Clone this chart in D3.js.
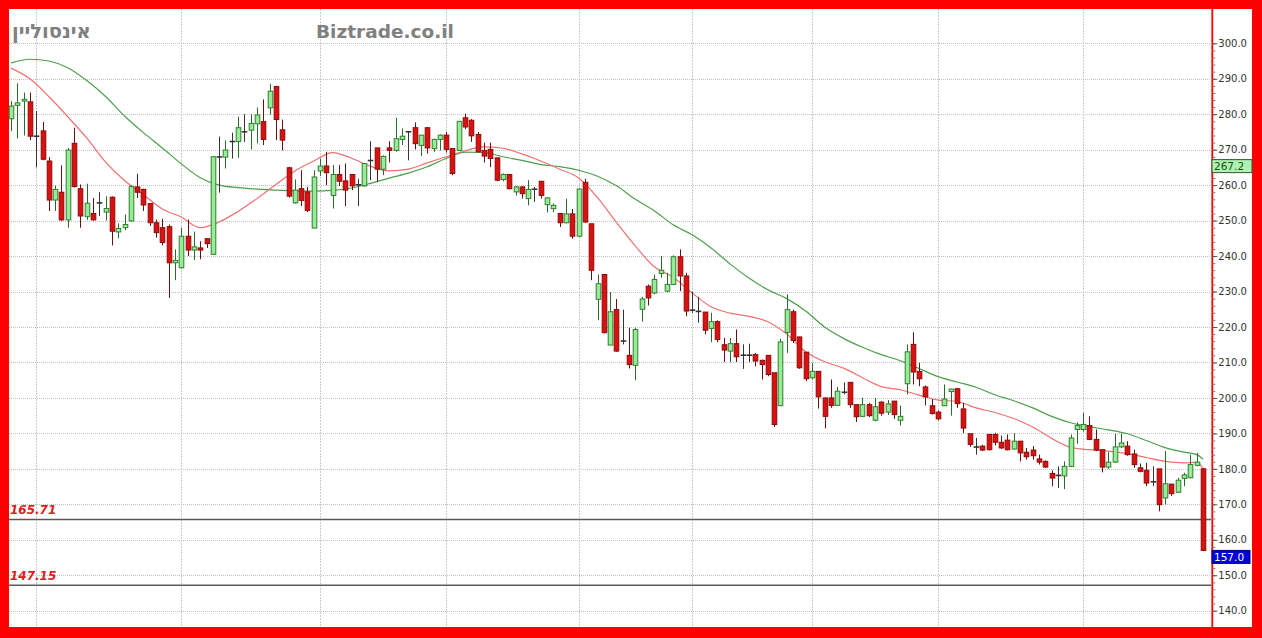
<!DOCTYPE html>
<html><head><meta charset="utf-8">
<script src="https://cdn.jsdelivr.net/npm/d3@7"></script>
<style>html,body{margin:0;padding:0;background:#fff;}svg{display:block;}</style>
</head><body>
<script>
// ---- data ----
const titleName = "אינסוליין";
const siteName = "Biztrade.co.il";
const opens = [278.7,282.5,283.7,283.5,273.9,275.3,266.8,255.8,258.0,250.2,271.8,259.0,251.1,252.0,255.0,252.4,256.6,246.8,248.0,249.9,
259.5,258.8,254.8,249.4,248.0,248.3,238.1,236.7,245.6,241.7,242.3,244.9,240.5,267.8,267.9,272.2,272.3,275.0,275.5,277.3,
277.9,281.8,287.8,275.6,264.9,255.0,259.0,258.1,247.9,264.0,265.4,257.1,263.0,261.2,263.0,260.0,259.8,266.8,270.5,264.5,
270.5,269.8,272.9,275.0,276.2,271.2,276.2,270.3,272.9,274.1,270.3,269.8,279.0,278.3,274.3,269.8,270.1,267.7,261.6,263.0,
258.1,259.5,256.2,258.8,261.1,254.5,253.4,252.0,249.4,251.9,245.6,260.8,249.1,227.8,234.8,214.9,224.9,216.0,212.0,209.2,
225.0,231.5,229.6,235.1,230.1,232.0,239.8,234.4,224.7,224.3,224.2,219.6,221.5,215.0,213.2,215.3,212.0,212.0,212.2,210.6,
212.0,207.1,197.8,218.5,224.3,217.2,212.9,205.7,207.5,200.0,200.0,197.9,201.5,204.4,198.1,194.8,198.1,193.7,198.8,196.0,
199.1,193.7,204.0,215.1,207.5,203.1,197.8,196.0,197.8,201.8,202.6,196.9,189.9,186.1,186.4,189.7,189.7,187.5,188.1,185.6,
187.8,184.7,185.3,182.8,182.1,178.7,178.1,178.0,180.7,191.1,191.1,192.2,188.3,185.4,180.5,181.9,186.2,186.4,184.2,180.3,
179.6,176.3,180.0,171.8,175.7,173.4,177.3,177.5,181.0,180.0];
const highs = [283.7,288.7,286.1,286.1,280.9,277.8,267.9,259.9,265.6,270.5,276.2,260.2,260.4,256.4,258.0,256.9,256.8,249.2,251.7,260.0,
263.2,259.0,255.0,250.3,250.5,248.9,241.9,248.0,250.3,246.9,244.2,245.0,268.2,273.7,272.6,274.8,279.3,280.0,280.0,281.9,
284.2,288.6,288.0,278.5,265.2,261.6,264.2,259.5,264.2,267.5,269.4,265.7,265.7,266.1,263.0,261.8,266.2,272.4,270.5,268.4,
272.4,279.0,276.0,275.3,277.7,274.1,276.4,273.1,274.3,275.0,270.3,278.0,280.2,278.6,275.0,272.0,272.0,267.7,263.3,263.0,
259.8,259.8,261.4,259.5,261.1,256.6,254.8,252.0,256.2,253.3,259.0,261.8,249.1,234.8,234.8,229.8,227.9,224.9,219.8,219.8,
228.5,232.0,234.8,240.0,235.3,240.2,241.9,235.3,230.0,228.5,224.2,224.0,221.9,216.9,216.9,219.3,215.1,215.3,212.7,210.8,
212.0,207.1,216.7,229.2,224.9,217.2,212.9,209.9,207.5,200.0,205.2,203.1,204.4,204.4,198.1,200.0,198.6,200.0,199.1,199.4,
199.1,197.8,215.1,218.5,209.9,203.5,199.7,196.5,203.8,202.6,202.6,198.6,189.9,188.7,186.8,189.7,190.2,189.4,189.7,190.0,
187.8,185.9,186.4,184.0,182.4,179.6,180.7,182.1,189.7,193.1,195.8,194.8,191.1,185.4,184.7,189.9,189.9,187.8,185.4,181.5,
181.7,180.7,180.0,185.0,175.7,177.5,178.9,184.0,184.5,180.1];
const lows = [275.2,273.2,274.0,272.7,265.0,267.0,252.7,252.7,249.9,248.0,259.3,248.0,250.2,250.0,251.3,250.0,243.0,245.0,247.3,249.7,
256.4,252.7,248.5,245.2,243.0,228.2,233.2,236.5,240.0,238.9,239.1,242.3,240.3,257.9,264.7,267.5,267.7,272.2,270.1,271.8,
271.3,279.9,272.7,269.8,256.5,254.8,254.1,252.4,247.9,262.6,260.0,253.4,259.8,254.1,258.6,254.1,259.5,261.4,260.9,262.8,
266.4,269.4,271.3,267.0,270.1,268.2,268.9,269.4,269.8,269.2,262.8,269.8,275.8,272.2,269.2,266.4,265.1,261.1,261.1,258.8,
257.1,256.2,254.3,255.3,256.2,252.3,252.4,248.2,249.2,244.9,245.4,249.4,233.2,221.9,218.2,214.9,213.0,215.1,208.3,205.0,
221.5,226.1,229.2,233.9,229.8,231.8,230.1,223.0,224.0,221.2,217.9,215.7,215.7,210.1,210.1,210.1,208.2,210.1,208.9,205.2,
206.1,191.8,197.8,212.7,215.5,208.2,204.7,205.2,197.0,191.4,197.2,197.9,201.0,197.2,193.2,194.6,194.6,193.4,195.0,195.2,
194.1,192.2,201.0,203.8,203.3,197.9,195.3,193.7,197.8,195.0,197.2,190.1,186.2,184.0,185.0,185.2,186.6,185.6,185.2,185.4,
182.1,182.6,182.6,181.2,180.3,175.1,174.6,174.3,180.5,187.1,190.5,188.1,185.0,179.0,180.0,181.7,185.9,183.7,180.3,179.0,
175.1,175.1,168.0,169.9,172.4,173.2,175.1,177.3,180.7,156.8];
const closes = [282.3,283.2,284.2,273.8,273.7,267.3,255.8,258.8,250.2,269.9,259.6,251.3,254.9,250.2,255.0,253.4,247.0,247.8,248.9,259.6,
258.0,254.4,249.4,246.6,243.8,238.1,238.8,245.6,241.7,242.6,241.7,243.5,268.0,268.1,269.9,272.4,276.2,275.1,277.4,279.8,
272.9,286.5,278.5,272.7,256.9,258.6,255.7,252.9,262.3,265.4,263.5,263.0,261.1,258.6,259.8,260.2,266.1,267.1,264.5,268.1,
269.8,273.1,273.8,275.1,271.7,274.1,270.5,272.9,274.1,270.1,263.3,278.0,276.4,273.9,269.4,268.2,267.5,261.4,263.0,259.0,
259.5,257.6,258.8,258.9,257.1,256.4,254.3,249.4,251.9,245.6,258.9,249.6,236.0,232.2,218.4,224.3,213.2,216.1,209.4,219.3,
227.9,228.2,233.4,236.0,232.0,239.8,234.4,224.5,224.8,224.5,219.1,221.5,216.5,213.5,215.3,211.6,212.1,212.1,210.4,209.4,
206.6,192.5,215.8,224.9,216.2,208.5,205.4,207.5,200.3,194.8,197.9,201.9,201.7,198.1,194.7,198.1,195.0,197.5,195.7,198.3,
195.3,194.8,213.0,207.3,205.4,200.3,195.6,194.1,199.7,202.5,198.4,191.5,186.9,186.2,185.3,185.4,187.5,185.9,185.4,187.8,
184.5,183.4,183.7,181.9,180.5,177.4,178.2,180.7,188.7,192.2,192.5,188.3,185.3,180.5,181.9,186.2,187.3,184.0,181.2,179.3,
176.0,176.4,169.9,175.8,173.0,176.8,178.3,181.2,181.9,157.0];
// moving averages (day index, value)
const maShortDays = [0,3,6,9,12,15,18,21,24,27,30,33,36,39,42,45,48,51,54,57,60,63,66,69,72,75,78,81,84,87,90,93,96,99,102,105,108,111,114,117,120,123,126,129,132,135,138,141,144,147,150,153,156,159,162,165,168,171,174,177,180,183,186,188,189];
const maShortVals = [293.0,290.0,285.0,279.3,273.3,266.5,261.3,257.3,253.3,251.0,248.0,249.6,252.6,256.2,260.2,264.0,266.8,269.2,267.6,265.3,264.0,264.5,266.3,268.0,269.7,270.8,270.4,268.8,266.8,264.5,262.0,256.5,249.5,242.8,237.0,234.0,229.6,225.7,223.9,223.0,221.5,218.0,213.0,210.2,208.4,205.7,203.2,202.3,200.8,199.4,199.0,197.2,195.9,194.2,191.8,188.6,186.1,185.4,185.0,184.3,183.2,182.1,181.7,181.8,180.1];
const maLongDays = [0,3,6,9,12,15,18,21,24,27,30,33,36,39,42,45,48,51,54,57,60,63,66,69,72,75,78,81,84,87,90,93,96,99,102,105,108,111,114,117,120,123,126,129,132,135,138,141,144,147,150,153,156,159,162,165,168,171,174,177,180,183,186,188,189];
const maLongVals = [294.5,295.5,295.0,293.1,289.5,285.0,279.5,274.8,270.5,266.0,262.1,260.0,259.3,258.9,258.6,258.4,258.3,258.5,259.2,260.5,262.0,263.4,265.2,267.5,269.3,269.2,268.0,267.0,265.8,265.2,264.2,262.5,259.8,256.0,252.8,248.8,246.0,242.3,237.8,233.8,230.5,228.0,224.5,220.0,216.8,214.3,212.2,210.5,208.3,206.0,204.5,203.0,200.9,199.2,197.2,194.8,193.0,191.9,191.0,189.9,188.0,186.0,184.7,184.0,182.7];
const monthStarts = [4,27,49,69,90,108,127,147,170];
const levels = [165.71, 147.15];
const yTicks = d3.range(140, 301, 10);
const markerValues = [267.2, 157.0];

// ---- drawing ----
const W = 1262, H = 638;
const svg = d3.select("body").append("svg").attr("width", W).attr("height", H);
svg.append("rect").attr("width", W).attr("height", H).attr("fill", "#ff0000");
svg.append("rect").attr("x", 9).attr("y", 9).attr("width", 1243).attr("height", 618).attr("fill", "#fff");

const x = d3.scaleLinear().domain([0, 189]).range([11, 1203]);
const y = d3.scaleLinear().domain([140, 300]).range([610.7, 43.3]);
const plotL = 9, plotR = 1211, plotT = 9, plotB = 627;

const g = svg.append("g");
// horizontal grid
g.selectAll("line.hg").data(yTicks).join("line")
  .attr("x1", plotL).attr("x2", plotR)
  .attr("y1", d => Math.round(y(d)) + 0.5).attr("y2", d => Math.round(y(d)) + 0.5)
  .attr("stroke", "#c4c4c4").attr("stroke-dasharray", "1,1");
// vertical grid
g.selectAll("line.vg").data(monthStarts).join("line")
  .attr("x1", d => Math.round(x(d)) + 0.5).attr("x2", d => Math.round(x(d)) + 0.5)
  .attr("y1", plotT).attr("y2", plotB)
  .attr("stroke", "#cccccc").attr("stroke-dasharray", "2,1");

// titles
svg.append("text").attr("x", 12).attr("y", 38).text(titleName)
  .attr("font-family", "DejaVu Sans").attr("font-weight", "bold").attr("font-size", 19.5).attr("fill", "#808080");
svg.append("text").attr("x", 316).attr("y", 38).text(siteName)
  .attr("font-family", "DejaVu Sans").attr("font-weight", "bold").attr("font-size", 18.5).attr("fill", "#808080");

// level lines
levels.forEach(v => {
  g.append("line").attr("x1", plotL).attr("x2", plotR).attr("y1", y(v)).attr("y2", y(v))
    .attr("stroke", "#5a5a5a").attr("stroke-width", 1.5);
  g.append("text").attr("x", 10).attr("y", y(v) - 5.5).text(v.toFixed(2))
    .attr("font-family", "DejaVu Sans").attr("font-weight", "bold").attr("font-style", "italic")
    .attr("font-size", 12).attr("fill", "#dd2020");
});

// moving averages
const line = d3.line().x(d => x(d[0])).y(d => y(d[1])).curve(d3.curveMonotoneX);
g.append("path").datum(maLongDays.map((d, i) => [d, maLongVals[i]]))
  .attr("d", line).attr("fill", "none").attr("stroke", "#4c9f4c").attr("stroke-width", 1.2);
g.append("path").datum(maShortDays.map((d, i) => [d, maShortVals[i]]))
  .attr("d", line).attr("fill", "none").attr("stroke", "#f07070").attr("stroke-width", 1.2);

// candles
const candles = opens.map((o, i) => ({i, o, h: highs[i], l: lows[i], c: closes[i]}));
const cg = g.append("g");
const bw = 4.6;
candles.forEach(d => {
  const up = d.c >= d.o;
  const doji = Math.abs(d.c - d.o) < 0.35;
  const cx = Math.round(x(d.i)) + 0.5;
  const wickCol = doji ? "#333" : (up ? "#2a6a2a" : "#6a1010");
  cg.append("line").attr("x1", cx).attr("x2", cx).attr("y1", y(d.h)).attr("y2", y(d.l))
    .attr("stroke", wickCol).attr("stroke-width", 1);
  if (doji) {
    cg.append("line").attr("x1", cx - bw / 2 - 0.5).attr("x2", cx + bw / 2 + 0.5)
      .attr("y1", y((d.o + d.c) / 2)).attr("y2", y((d.o + d.c) / 2))
      .attr("stroke", "#333").attr("stroke-width", 1.6);
  } else {
    const top = y(Math.max(d.o, d.c)), bot = y(Math.min(d.o, d.c));
    cg.append("rect").attr("x", cx - bw / 2).attr("y", top).attr("width", bw).attr("height", Math.max(1, bot - top))
      .attr("fill", up ? "#98ec98" : "#dd1010").attr("stroke", up ? "#2f7f2f" : "#8a0a0a").attr("stroke-width", 1);
  }
});

// right axis
svg.append("line").attr("x1", 1212.3).attr("x2", 1212.3).attr("y1", plotT).attr("y2", plotB)
  .attr("stroke", "#ff0000").attr("stroke-width", 1.8);
const minor = svg.append("g").attr("transform", "translate(1212.3,0)")
  .call(d3.axisRight(y).tickValues(d3.range(140, 301, 2)).tickSize(3).tickFormat(""));
minor.select(".domain").remove();
minor.selectAll("line").attr("stroke", "#777");
const ax = svg.append("g").attr("transform", "translate(1212.3,0)")
  .call(d3.axisRight(y).tickValues(yTicks).tickSize(5).tickPadding(1).tickFormat(d3.format(".1f")));
ax.select(".domain").remove();
ax.selectAll("line").attr("stroke", "#555");
ax.selectAll("text").attr("font-family", "DejaVu Sans").attr("font-size", 10).attr("fill", "#333");

// price markers
const mk = [
  {v: markerValues[0], fill: "#b0f0b0", stroke: "#335533", text: "#115511", w: 40},
  {v: markerValues[1], fill: "#0000d8", stroke: "#000088", text: "#ffffff", w: 38}
];
mk.forEach(m => {
  const ty = y(m.v);
  svg.append("rect").attr("x", 1212).attr("y", ty).attr("width", m.w).attr("height", 13)
    .attr("fill", m.fill).attr("stroke", m.stroke).attr("stroke-width", 1);
  svg.append("text").attr("x", 1214).attr("y", ty + 10.5).text(m.v.toFixed(1))
    .attr("font-family", "DejaVu Sans").attr("font-size", 10.5).attr("fill", m.text);
});
</script>
</body></html>
